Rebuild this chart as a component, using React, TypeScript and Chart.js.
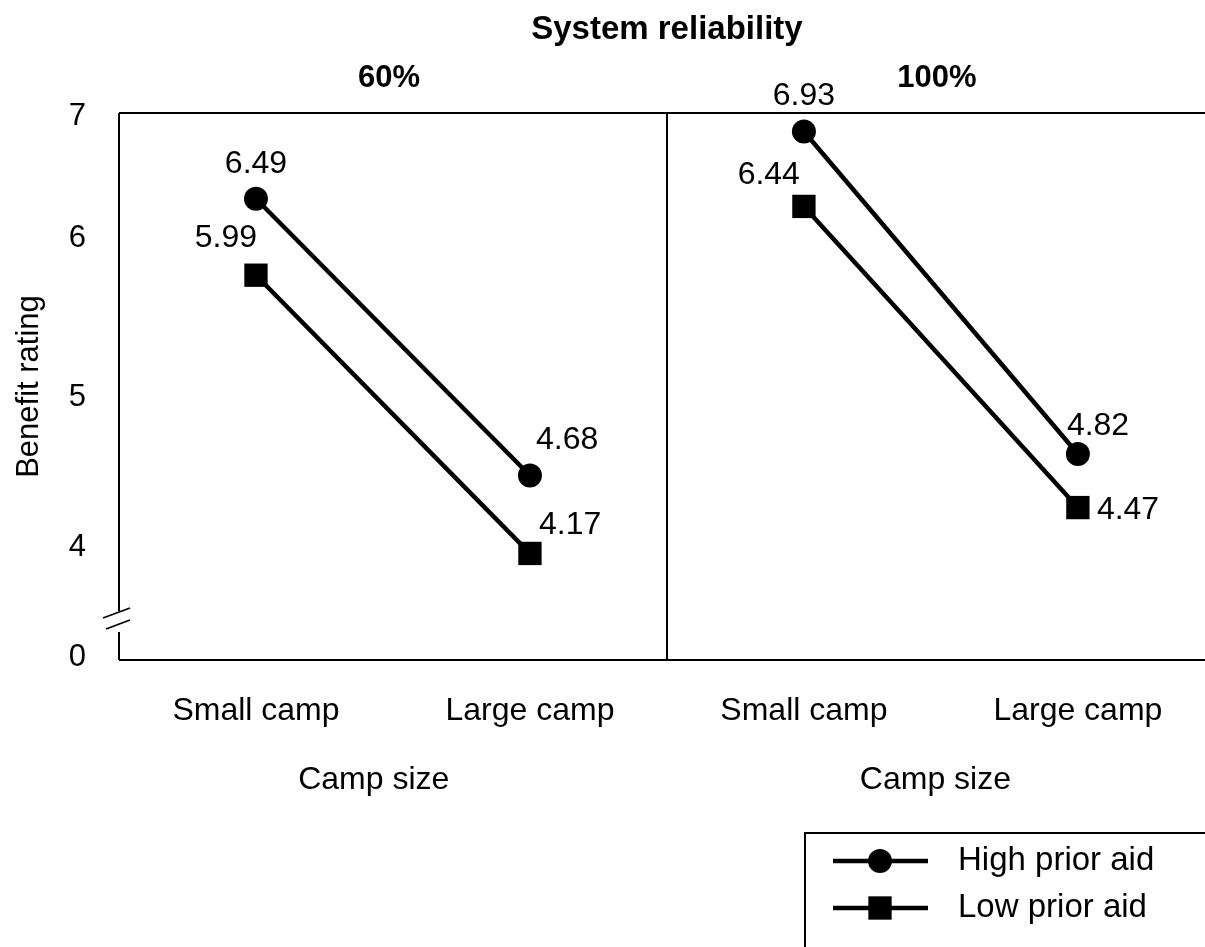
import React, { useEffect, useRef } from 'react';
import { Chart, registerables } from 'chart.js';

Chart.register(...registerables);

// ---- data ----
const categories = ['Small camp', 'Large camp'];
const panelLabels = ['60%', '100%'];
const seriesNames = ['High prior aid', 'Low prior aid'];
const highPriorAid60 = [6.49, 4.68];
const lowPriorAid60 = [5.99, 4.17];
const highPriorAid100 = [6.93, 4.82];
const lowPriorAid100 = [6.44, 4.47];
const yTickLabels = ['7', '6', '5', '4', '0'];
// where the reference prints its (broken) axis labels, in the plotted scale's units
const yTickAt = [7.03, 6.23, 5.19, 4.21, 3.49];
const mainTitle = 'System reliability';
const yTitle = 'Benefit rating';
const xTitle = 'Camp size';

// ---- layout / style ----
const FONT = "'Liberation Sans', Arial, Helvetica, sans-serif";
const Y_MIN = 3.473;
const Y_MAX = 7.051;
const X_MAX = 3.964;
const LINE_W = 4.5;

// value label placement relative to each point: [dx, dy, align]
const labelPlacement: [number, number, CanvasTextAlign][][] = [
  [[0, -35, 'center'], [6, -35, 'left']],
  [[1, -37, 'right'], [9, -28, 'left']],
  [[0, -35, 'center'], [-11, -28, 'left']],
  [[-4, -31, 'right'], [19, 3, 'left']],
];

const xOf = (panel: number, cat: number) => panel * 2 + cat + 0.5;
const xTickAt = panelLabels.flatMap((_, p) => categories.map((_, c) => xOf(p, c)));
const xTickLabels = panelLabels.flatMap(() => categories);

const decorPlugin = {
  id: 'decor',
  beforeDatasetsDraw(chart: any) {
    const { ctx, chartArea } = chart;
    const { left, right, top, bottom } = chartArea;
    const xs = chart.scales.x;
    ctx.save();
    ctx.strokeStyle = '#000';
    ctx.lineWidth = 2;
    ctx.lineCap = 'butt';
    ctx.beginPath();
    ctx.moveTo(left, top); ctx.lineTo(right, top);
    ctx.moveTo(left, bottom); ctx.lineTo(right, bottom);
    ctx.moveTo(left, top); ctx.lineTo(left, bottom - 49);
    ctx.moveTo(left, bottom - 28); ctx.lineTo(left, bottom);
    const xd = Math.round(xs.getPixelForValue(2));
    ctx.moveTo(xd, top); ctx.lineTo(xd, bottom);
    ctx.stroke();
    ctx.lineWidth = 1.8;
    ctx.beginPath();
    ctx.moveTo(left - 16, bottom - 42); ctx.lineTo(left + 11, bottom - 52);
    ctx.moveTo(left - 13, bottom - 31); ctx.lineTo(left + 11, bottom - 40);
    ctx.stroke();
    ctx.restore();
  },
  afterDatasetsDraw(chart: any) {
    const { ctx } = chart;
    const xs = chart.scales.x;
    ctx.save();
    ctx.fillStyle = '#000';
    ctx.textBaseline = 'middle';
    ctx.font = `32px ${FONT}`;
    chart.data.datasets.forEach((ds: any, di: number) => {
      const meta = chart.getDatasetMeta(di);
      meta.data.forEach((pt: any, i: number) => {
        const [dx, dy, align] = labelPlacement[di][i];
        ctx.textAlign = align;
        ctx.fillText(ds.data[i].y.toFixed(2), pt.x + dx, pt.y + dy);
      });
    });
    ctx.textAlign = 'center';
    ctx.font = `bold 33px ${FONT}`;
    ctx.fillText(mainTitle, xs.getPixelForValue(2), 30);
    ctx.font = `bold 31px ${FONT}`;
    panelLabels.forEach((p, i) => {
      ctx.fillText(p, xs.getPixelForValue(i * 2 + 1) - 4, 78);
    });
    ctx.font = `32px ${FONT}`;
    ctx.fillText(xTitle, xs.getPixelForValue(0.93), 780);
    ctx.fillText(xTitle, xs.getPixelForValue(2.98), 780);

    const lx = 805, ly = 833;
    ctx.strokeStyle = '#000';
    ctx.lineWidth = 2;
    ctx.beginPath();
    ctx.moveTo(lx, chart.height); ctx.lineTo(lx, ly); ctx.lineTo(chart.width, ly);
    ctx.stroke();
    const rows = [861, 908];
    seriesNames.forEach((name, i) => {
      const ds: any = chart.data.datasets[i];
      const y = rows[i];
      ctx.lineWidth = LINE_W;
      ctx.beginPath();
      ctx.moveTo(833, y); ctx.lineTo(928, y);
      ctx.stroke();
      ctx.beginPath();
      if (ds.pointStyle === 'circle') {
        ctx.arc(880, y, ds.pointRadius, 0, Math.PI * 2);
      } else {
        const h = ds.pointRadius * Math.SQRT1_2;
        ctx.rect(880 - h, y - h, 2 * h, 2 * h);
      }
      ctx.fill();
      ctx.textAlign = 'left';
      ctx.font = `33px ${FONT}`;
      ctx.fillText(name, 958, y);
    });
    ctx.restore();
  },
};

export default function App() {
  const ref = useRef<HTMLCanvasElement>(null);

  useEffect(() => {
    const canvas = ref.current;
    if (!canvas) return;
    const series = [
      { name: seriesNames[0], values: highPriorAid60, panel: 0, style: 'circle', r: 12 },
      { name: seriesNames[1], values: lowPriorAid60, panel: 0, style: 'rect', r: 16.5 },
      { name: seriesNames[0], values: highPriorAid100, panel: 1, style: 'circle', r: 12 },
      { name: seriesNames[1], values: lowPriorAid100, panel: 1, style: 'rect', r: 16.5 },
    ];
    const chart = new Chart(canvas, {
      type: 'line',
      data: {
        datasets: series.map((s) => ({
          label: s.name,
          data: s.values.map((v, i) => ({ x: xOf(s.panel, i), y: v })),
          borderColor: '#000',
          backgroundColor: '#000',
          borderWidth: LINE_W,
          pointStyle: s.style,
          pointRadius: s.r,
          pointBorderWidth: 0,
          pointBackgroundColor: '#000',
          tension: 0,
          clip: false,
        })) as any,
      },
      options: {
        responsive: false,
        animation: false,
        events: [],
        layout: { autoPadding: false, padding: { top: 113, left: 0, right: 0, bottom: 0 } },
        plugins: {
          legend: { display: false },
          tooltip: { enabled: false },
          title: { display: false },
        },
        scales: {
          x: {
            type: 'linear',
            min: 0,
            max: X_MAX,
            grid: { display: false },
            border: { display: false },
            afterBuildTicks: (s: any) => {
              s.ticks = xTickAt.map((v) => ({ value: v }));
            },
            afterFit: (s: any) => {
              s.height = 287;
              s.paddingLeft = 0;
              s.paddingRight = 0;
            },
            ticks: {
              autoSkip: false,
              maxRotation: 0,
              minRotation: 0,
              padding: 24,
              color: '#000',
              font: { family: FONT, size: 32 },
              callback: (_v: any, i: number) => xTickLabels[i],
            },
          },
          y: {
            type: 'linear',
            min: Y_MIN,
            max: Y_MAX,
            grid: { display: false },
            border: { display: false },
            afterBuildTicks: (s: any) => {
              s.ticks = yTickAt.map((v) => ({ value: v }));
            },
            afterFit: (s: any) => {
              s.width = 119;
            },
            ticks: {
              autoSkip: false,
              padding: 25,
              color: '#000',
              font: { family: FONT, size: 31 },
              callback: (_v: any, i: number) => yTickLabels[i],
            },
            title: {
              display: true,
              text: yTitle,
              color: '#000',
              font: { family: FONT, size: 31 },
              padding: { top: 11, bottom: 0 },
            },
          },
        },
      } as any,
      plugins: [decorPlugin],
    });
    return () => chart.destroy();
  }, []);

  return (
    <div style={{ position: 'fixed', left: 0, top: 0, width: 1205, height: 947, background: '#fff' }}>
      <canvas ref={ref} width={1205} height={947} style={{ display: 'block' }} />
    </div>
  );
}
